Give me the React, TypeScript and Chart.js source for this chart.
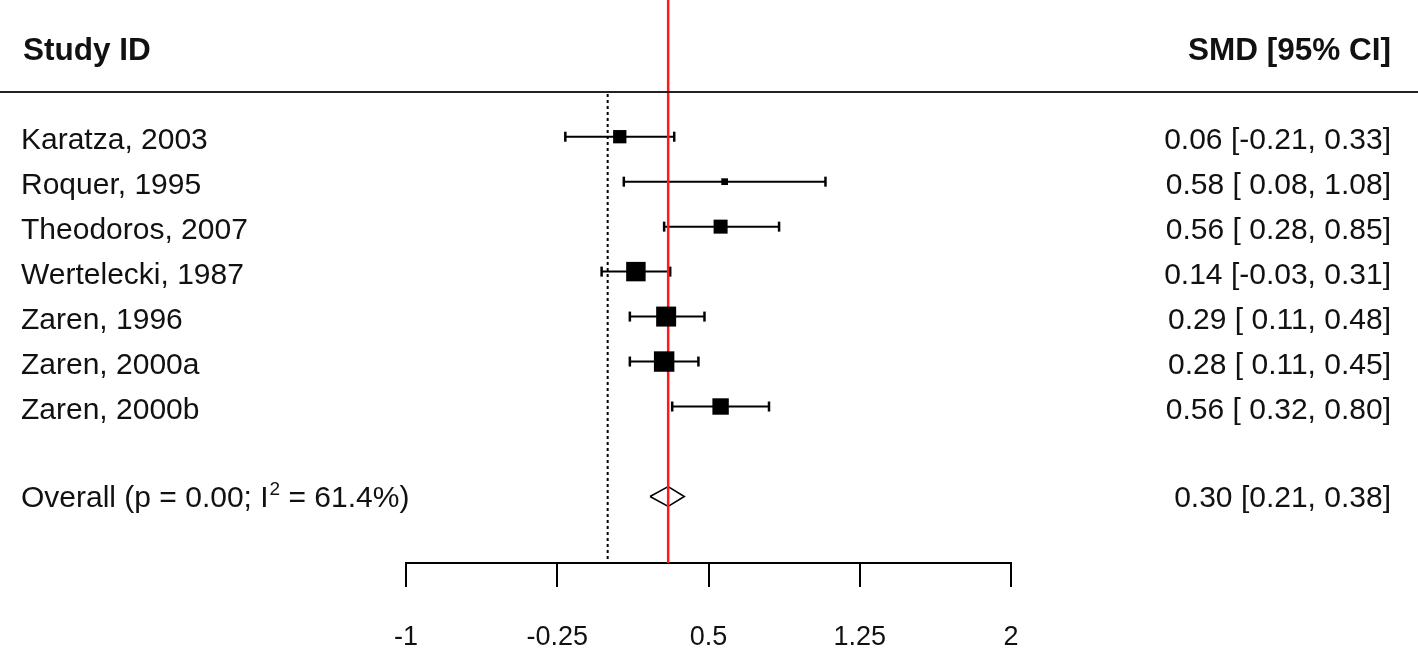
import React, { useEffect, useRef } from "react";
import { Chart, registerables } from "chart.js";

Chart.register(...registerables);

// ---- data ----
const studies = [
  "Karatza, 2003",
  "Roquer, 1995",
  "Theodoros, 2007",
  "Wertelecki, 1987",
  "Zaren, 1996",
  "Zaren, 2000a",
  "Zaren, 2000b",
];
const smd = [0.06, 0.58, 0.56, 0.14, 0.29, 0.28, 0.56];
const ciLower = [-0.21, 0.08, 0.28, -0.03, 0.11, 0.11, 0.32];
const ciUpper = [0.33, 1.08, 0.85, 0.31, 0.48, 0.45, 0.8];
const weights = [9.4, 2.4, 10.4, 20.1, 21.2, 22.2, 14.3];
const ciText = [
  "0.06 [-0.21, 0.33]",
  "0.58 [ 0.08, 1.08]",
  "0.56 [ 0.28, 0.85]",
  "0.14 [-0.03, 0.31]",
  "0.29 [ 0.11, 0.48]",
  "0.28 [ 0.11, 0.45]",
  "0.56 [ 0.32, 0.80]",
];
const overallLabelMain = "Overall (p = 0.00; I";
const overallLabelSup = "2";
const overallLabelEnd = " = 61.4%)";
const overallSmd = 0.3;
const overallLower = 0.21;
const overallUpper = 0.38;
const overallText = "0.30 [0.21, 0.38]";
const xTicks = [-1, -0.25, 0.5, 1.25, 2];
const headerLeft = "Study ID";
const headerRight = "SMD [95% CI]";

// ---- layout / style constants ----
const W = 1418;
const H = 648;
const FONT = "'Liberation Sans', Arial, sans-serif";
const Y_MIN = -3.04;
const Y_MAX = 9.48;
const OVERALL_ROW = studies.length + 1;
const HEADER_ROW = -2;
const RULE_ROW = -1;
const BOX_K = 4.34;
const DIAMOND_HALF = 0.22;

export default function App() {
  const ref = useRef<HTMLCanvasElement | null>(null);

  useEffect(() => {
    const canvas = ref.current;
    if (!canvas) return;

    const textPlugin = {
      id: "forestText",
      afterDraw(chart: any) {
        const ctx = chart.ctx;
        const ys = chart.scales.y;
        ctx.save();
        // header
        ctx.fillStyle = "#111";
        ctx.font = `bold 31.5px ${FONT}`;
        ctx.textBaseline = "alphabetic";
        ctx.textAlign = "left";
        const hy = ys.getPixelForValue(HEADER_ROW) + 13.3;
        ctx.fillText(headerLeft, 23, hy);
        ctx.textAlign = "right";
        ctx.fillText(headerRight, 1391, hy);
        // rule
        ctx.strokeStyle = "#222";
        ctx.lineWidth = 2;
        const ry = Math.round(ys.getPixelForValue(RULE_ROW));
        ctx.beginPath();
        ctx.moveTo(0, ry);
        ctx.lineTo(W, ry);
        ctx.stroke();
        // rows
        ctx.font = `30px ${FONT}`;
        studies.forEach((s, i) => {
          const y = ys.getPixelForValue(i) + 12.3;
          ctx.textAlign = "left";
          ctx.fillText(s, 21, y);
          ctx.textAlign = "right";
          ctx.fillText(ciText[i], 1391, y);
        });
        // overall
        const oy = ys.getPixelForValue(OVERALL_ROW) + 10.5;
        ctx.textAlign = "left";
        ctx.font = `30px ${FONT}`;
        ctx.fillText(overallLabelMain, 21, oy);
        let x = 21 + ctx.measureText(overallLabelMain).width + 1;
        ctx.font = `19px ${FONT}`;
        ctx.fillText(overallLabelSup, x, oy - 12);
        x += ctx.measureText(overallLabelSup).width;
        ctx.font = `30px ${FONT}`;
        ctx.fillText(overallLabelEnd, x, oy);
        ctx.textAlign = "right";
        ctx.fillText(overallText, 1391, oy);
        ctx.restore();
      },
    };

    const ciDatasets = studies.map((s, i) => ({
      type: "line" as const,
      label: s,
      data: [
        { x: ciLower[i], y: i },
        { x: ciUpper[i], y: i },
      ],
      borderColor: "#000",
      borderWidth: 2,
      pointStyle: "line" as const,
      rotation: 90,
      pointRadius: 5,
      pointBorderWidth: 2.5,
      pointBorderColor: "#000",
      order: 3,
    }));

    const chart = new Chart(canvas, {
      type: "scatter",
      data: {
        datasets: [
          {
            type: "scatter",
            label: "weights",
            data: smd.map((v, i) => ({ x: v, y: i })),
            pointStyle: "rect",
            pointRadius: weights.map((w) => (Math.sqrt(w) * BOX_K) / Math.SQRT2),
            backgroundColor: "#000",
            borderColor: "#000",
            borderWidth: 0,
            order: 0,
          } as any,
          {
            type: "line",
            label: "overall",
            data: [
              { x: overallSmd, y: Y_MIN },
              { x: overallSmd, y: Y_MAX },
            ],
            borderColor: "#ff1a1a",
            borderWidth: 2.5,
            pointRadius: 0,
            order: 1,
          },
          {
            type: "line",
            label: "diamond",
            data: [
              { x: overallLower, y: OVERALL_ROW },
              { x: overallSmd, y: OVERALL_ROW - DIAMOND_HALF },
              { x: overallUpper, y: OVERALL_ROW },
              { x: overallSmd, y: OVERALL_ROW + DIAMOND_HALF },
              { x: overallLower, y: OVERALL_ROW },
            ],
            borderColor: "#000",
            borderWidth: 1.6,
            pointRadius: 0,
            fill: false,
            tension: 0,
            order: 2,
          },
          ...ciDatasets,
          {
            type: "line",
            label: "null",
            data: [
              { x: 0, y: RULE_ROW + 0.05 },
              { x: 0, y: Y_MAX },
            ],
            borderColor: "#000",
            borderWidth: 2,
            borderDash: [3, 3],
            pointRadius: 0,
            order: 4,
          },
        ] as any,
      },
      options: {
        animation: false,
        responsive: true,
        maintainAspectRatio: false,
        devicePixelRatio: 1,
        layout: {
          autoPadding: false,
          padding: { left: 406, right: W - 1011, top: 0, bottom: 0 },
        },
        plugins: {
          legend: { display: false },
          tooltip: { enabled: false },
        },
        scales: {
          x: {
            type: "linear",
            position: "bottom",
            min: -1,
            max: 2,
            afterBuildTicks: (s: any) => {
              s.ticks = xTicks.map((v) => ({ value: v }));
            },
            afterFit: (s: any) => {
              s.height = 85;
            },
            grid: {
              drawOnChartArea: false,
              drawTicks: true,
              tickLength: 24,
              color: "#000",
              lineWidth: 2,
            },
            border: { display: true, color: "#000", width: 2 },
            ticks: {
              autoSkip: false,
              maxRotation: 0,
              padding: 34,
              color: "#111",
              font: { size: 27, family: FONT },
              callback: (v: any) => String(v),
            },
          },
          y: {
            type: "linear",
            display: false,
            reverse: true,
            min: Y_MIN,
            max: Y_MAX,
          },
        },
      },
      plugins: [textPlugin],
    });

    return () => chart.destroy();
  }, []);

  return (
    <div
      style={{
        position: "fixed",
        left: 0,
        top: 0,
        width: W,
        height: H,
        background: "#fff",
      }}
    >
      <canvas ref={ref} />
    </div>
  );
}
